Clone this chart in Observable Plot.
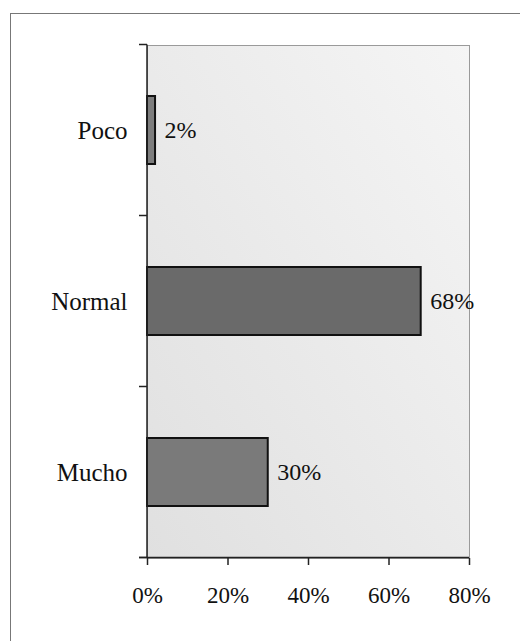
<!DOCTYPE html>
<html>
<head>
<meta charset="utf-8">
<script src="https://cdn.jsdelivr.net/npm/d3@7"></script>
<script src="https://cdn.jsdelivr.net/npm/@observablehq/plot@0.6"></script>
<style>
  html, body { margin: 0; padding: 0; background: #fff; }
  #wrap { position: relative; width: 520px; height: 641px; overflow: hidden; }
  #border { position: absolute; left: 10px; top: 13px; width: 540px; height: 660px;
            border-left: 1.5px solid #777; border-top: 1.5px solid #777; box-sizing: border-box; }
  #chart { position: absolute; left: 0; top: 0; }
</style>
</head>
<body>
<div id="wrap"><div id="border"></div><div id="chart"></div></div>
<script>
const categories = ["Poco", "Normal", "Mucho"];
const values = [2, 68, 30];
const barColors = ["#7d7d7d", "#6a6a6a", "#7a7a7a"];
const xTicks = [0, 20, 40, 60, 80];

const data = categories.map((c, i) => ({cat: c, value: values[i]}));

function axisLines(index, scales, values, dimensions) {
  const x = scales.x, y = scales.y;
  const dom = y.domain();
  const gap = (y.step() - y.bandwidth()) / 2;
  const bounds = dom.map(c => y(c) - gap);
  bounds.push(y(dom[dom.length - 1]) + y.bandwidth() + gap);
  const x0 = x(xTicks[0]);
  const x1 = x(xTicks[xTicks.length - 1]);
  const top = bounds[0], bottom = bounds[bounds.length - 1];
  const g = d3.create("svg:g").attr("stroke", "#222").attr("stroke-width", 1.5).attr("fill", "none");
  g.append("line").attr("x1", x0).attr("x2", x0).attr("y1", top).attr("y2", bottom);
  g.append("line").attr("x1", x0 - 8).attr("x2", x1).attr("y1", bottom).attr("y2", bottom);
  bounds.forEach(b => g.append("line").attr("x1", x0 - 8).attr("x2", x0).attr("y1", b).attr("y2", b));
  return g.node();
}

const chart = Plot.plot({
  width: 520,
  height: 641,
  marginLeft: 147,
  marginRight: 51,
  marginTop: 45,
  marginBottom: 83,
  style: {fontFamily: "'Liberation Serif', 'Times New Roman', serif", fontSize: "22px", background: "transparent", color: "#111"},
  x: {domain: [0, 80], label: null},
  y: {domain: categories, paddingInner: 0.6, paddingOuter: 0.3, label: null},
  color: {domain: categories, range: barColors},
  marks: [
    Plot.frame({fill: "url(#bg)", stroke: "#9a9a9a", strokeWidth: 1}),
    Plot.barX(data, {x: "value", y: "cat", fill: "cat", stroke: "#111", strokeWidth: 2}),
    Plot.text(data, {x: "value", y: "cat", text: d => d.value + "%", textAnchor: "start", dx: 9, fontSize: 24, fill: "#111"}),
    axisLines,
    Plot.axisX({ticks: xTicks, tickFormat: d => d + "%", tickSize: 7, tickPadding: 21, fontSize: 23, stroke: "#222", strokeWidth: 1.5, label: null}),
    Plot.axisY({tickSize: 0, tickPadding: 20, fontSize: 25, label: null})
  ]
});

const svg = d3.select(chart);
const defs = svg.insert("defs", ":first-child");
const grad = defs.append("linearGradient").attr("id", "bg")
  .attr("x1", "1").attr("y1", "0").attr("x2", "0").attr("y2", "1");
grad.append("stop").attr("offset", "0%").attr("stop-color", "#f5f5f5");
grad.append("stop").attr("offset", "100%").attr("stop-color", "#e0e0e0");

document.getElementById("chart").appendChild(chart);
</script>
</body>
</html>
